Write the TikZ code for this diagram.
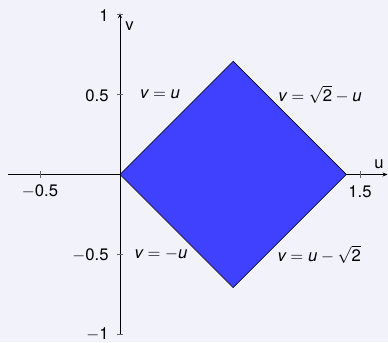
\documentclass[tikz,border=0pt]{standalone}
\usepackage{fontspec}
\setmainfont{TeX Gyre Heros}
\usetikzlibrary{arrows.meta}
\definecolor{bgc}{RGB}{242,242,251}
\definecolor{fillc}{RGB}{64,64,255}
\tikzset{
  axisline/.style={draw=black, line width=0.4pt, -{Stealth[length=3pt,width=2.4pt]}},
  tickst/.style={draw=gray!80!black, line width=0.4pt},
  ticklab/.style={inner sep=0pt, font=\fontsize{10}{12}\selectfont},
  eqlab/.style={inner sep=0pt, font=\fontsize{10}{12}\selectfont},
  region/.style={fill=fillc, draw=black, line width=0.4pt, line join=miter}
}
\begin{document}
\begin{tikzpicture}[x=96pt,y=96pt]
\fill[bgc] (-0.75,-1.047) rectangle (1.675,1.0906);
\useasboundingbox (-0.75,-1.047) rectangle (1.675,1.0906);
% axes
\coordinate (xs) at (-0.7,0);
\coordinate (xe) at (1.672,0);
\coordinate (ys) at (0,-1);
\coordinate (ye) at (0,1.008);
\draw[axisline] (xs) -- (xe);
\draw[axisline] (ys) -- (ye);
% ticks
\foreach \t in {-0.5,1.5} \draw[tickst] (\t,-0.019) -- (\t,0.019);
\foreach \t in {1,0.5,-0.5,-1} \draw[tickst] (-0.019,\t) -- (0.019,\t);
% tick labels
\node[ticklab] (xl1) at (-0.5,-0.106) {$-$0.5};
\node[ticklab] (xl2) at (1.5,-0.106) {1.5};
\node[ticklab, anchor=east] (yl1) at (-0.069,0.99) {1};
\node[ticklab, anchor=east] (yl2) at (-0.069,0.495) {0.5};
\node[ticklab, anchor=east] (yl3) at (-0.069,-0.502) {$-$0.5};
\node[ticklab, anchor=east] (yl4) at (-0.069,-1.0) {$-$1};
% axis labels
\node[ticklab] (ulab) at (1.619,0.066) {u};
\node[ticklab] (vlab) at (0.059,0.93) {v};
% region
\coordinate (A) at (0,0);
\coordinate (B) at (0.70711,0.70711);
\coordinate (C) at (1.41421,0);
\coordinate (D) at (0.70711,-0.70711);
\filldraw[region] (A) -- (B) -- (C) -- (D) -- cycle;
% boundary labels
\node[eqlab] (e1) at (0.25,0.5) {$\textit{v} = \textit{u}$};
\node[eqlab] (e2) at (1.25,0.5) {$\textit{v} = \sqrt{\textup{2}} - \textit{u}$};
\node[eqlab] (e3) at (0.256,-0.5) {$\textit{v} = -\textit{u}$};
\node[eqlab] (e4) at (1.245,-0.5) {$\textit{v} = \textit{u} - \sqrt{\textup{2}}$};
\end{tikzpicture}
\end{document}
